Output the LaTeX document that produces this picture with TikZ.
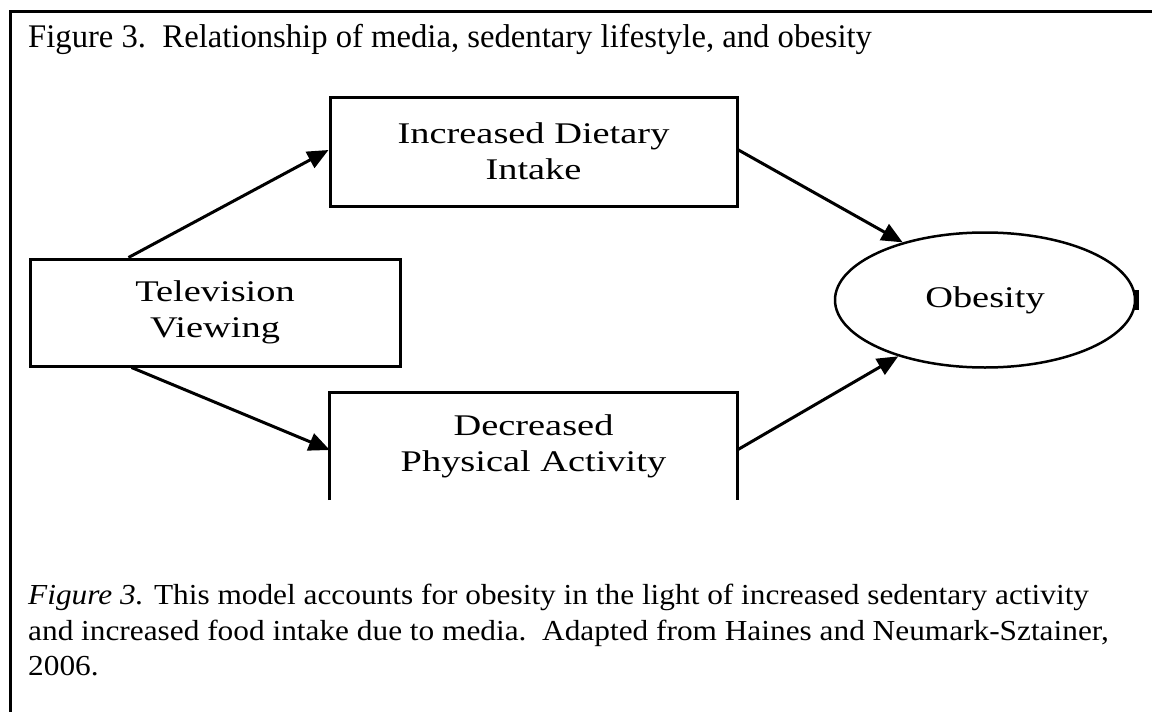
\documentclass[tikz,border=0pt]{standalone}
\usepackage{fontspec}
\setmainfont{Liberation Serif}
\newfontfamily\boxfont[FakeStretch=1.28]{Liberation Serif}
\newfontfamily\capfont[FakeStretch=1.08]{Liberation Serif}
\newfontfamily\ttlfont[FakeStretch=0.99]{Liberation Serif}
\usetikzlibrary{arrows.meta,shapes.geometric}
\begin{document}
\begin{tikzpicture}[x=1pt,y=-1pt,
  frame/.style={line width=3pt},
  boxtxt/.style={font=\boxfont\fontsize{30}{36}\selectfont},
  box/.style={draw,line width=3pt,minimum width=370pt,minimum height=107pt,inner sep=0pt,align=center,boxtxt},
  lbl/.style={inner sep=0pt,boxtxt,align=center},
  arr/.style={line width=3pt,-{Triangle[length=21pt,width=18pt]}},
  captxt/.style={anchor=base west,inner sep=0pt,font=\capfont\fontsize{29}{36}\selectfont},
  ttl/.style={anchor=base west,inner sep=0pt,font=\ttlfont\fontsize{33}{40}\selectfont}]
\useasboundingbox (0,0) rectangle (1152,712);
\fill[white] (0,0) rectangle (1152,712);
% outer frame (left and top only)
\draw[frame] (10,712) -- (10,11) -- (1152,11);
\node[ttl] (title) at (28,47) {Figure 3.\ \ Relationship of media, sedentary lifestyle, and obesity};
% nodes
\node[box] (tv) at (215,312.5) {Television\\Viewing};
\node[box,minimum width=407pt,minimum height=109pt] (diet) at (533.5,151.5) {Increased Dietary\\Intake};
\node[lbl,minimum width=407pt,minimum height=107pt] (phys) at (533.5,446.5) {Decreased\\Physical Activity};
\draw[line width=3pt] (phys.south west) -- (phys.north west) -- (phys.north east) -- (phys.south east);
\node[ellipse,draw,line width=2.5pt,minimum width=300pt,minimum height=135pt,inner sep=0pt,boxtxt] (ob) at (985,300) {Obesity};
\fill ([xshift=-2pt,yshift=10pt]ob.east) rectangle ([xshift=3pt,yshift=-10pt]ob.east);
% connectors
\draw[arr] ([xshift=100pt]tv.north west) -- ([yshift=1.5pt]diet.west);
\draw[arr] ([xshift=103pt]tv.south west) -- ([yshift=-3.5pt]phys.west);
\draw[arr] ([yshift=1.5pt]diet.east) -- (ob.145);
\draw[arr] ([yshift=-3.5pt]phys.east) -- (ob.213);
% caption
\node[captxt] (c1) at (28,604) {\textit{Figure 3.} This model accounts for obesity in the light of increased sedentary activity};
\node[captxt] (c2) at (28,640) {and increased food intake due to media.\ \ Adapted from Haines and Neumark-Sztainer,};
\node[captxt] (c3) at (28,675) {2006.};
\end{tikzpicture}
\end{document}
